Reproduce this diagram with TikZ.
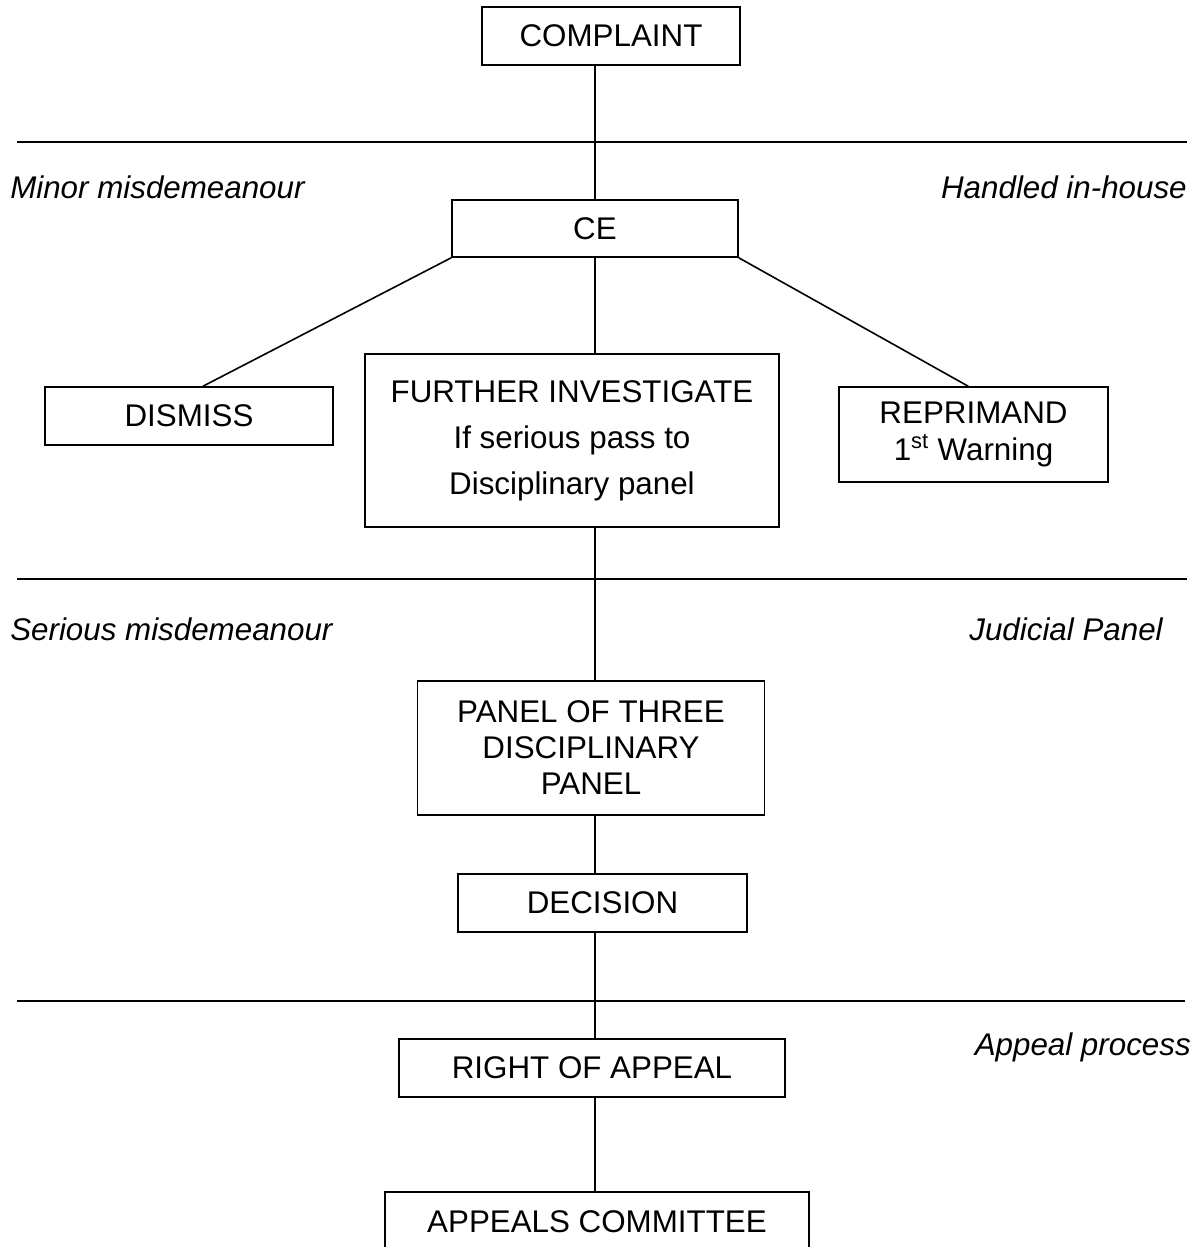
\documentclass[tikz,border=0pt]{standalone}
\usepackage{fontspec}
\setmainfont{Liberation Sans}
\usetikzlibrary{positioning}

\tikzset{
  stagebox/.style={draw, line width=1.2pt, inner sep=0pt, align=center, font=\fontsize{23.5}{28}\selectfont},
  sidenote/.style={inner sep=0pt, font=\fontsize{23.5}{28}\selectfont\itshape},
  divider/.style={line width=1.2pt},
  link/.style={line width=1.2pt}
}

\begin{document}
\begin{tikzpicture}[x=0.75pt,y=0.75pt,yscale=-1,xscale=1]
\useasboundingbox (0,0) rectangle (1199,1247);

%Shape: Rectangle boxes
\node [stagebox, minimum width=193.5pt, minimum height=43.5pt] (complaint) at (611,36) {COMPLAINT};
\node [stagebox, minimum width=214.5pt, minimum height=42.75pt] (ce) at (595,228.5) {CE};
\node [stagebox, minimum width=216pt, minimum height=43.5pt] (dismiss) at (189,416) {DISMISS};
\node [stagebox, minimum width=310.5pt, minimum height=129.75pt, font=\fontsize{23.5}{34.5}\selectfont] (further) at (572,440.5) {FURTHER INVESTIGATE\\If serious pass to\\Disciplinary panel};
\node [stagebox, minimum width=201.75pt, minimum height=71.25pt] (reprimand) at (973.5,434.5) {REPRIMAND\\1\textsuperscript{st} Warning};
\node [stagebox, minimum width=260.25pt, minimum height=100.5pt, font=\fontsize{23.5}{27}\selectfont] (panel) at (591,748) {PANEL OF THREE\\DISCIPLINARY\\PANEL};
\node [stagebox, minimum width=216.75pt, minimum height=43.5pt] (decision) at (602.5,903) {DECISION};
\node [stagebox, minimum width=289.5pt, minimum height=43.5pt] (appeal) at (592,1068) {RIGHT OF APPEAL};
\node [stagebox, minimum width=318pt, minimum height=45pt] (committee) at (597,1222) {APPEALS COMMITTEE};

%Straight Lines: dividers
\draw [divider] (17,142) -- (1187,142) ;
\draw [divider] (17,579) -- (1187,579) ;
\draw [divider] (17,1001) -- (1185,1001) ;

%Straight Lines: connectors
\draw [link] (ce.north) -- (ce.north |- complaint.south) ;
\draw [link] (ce.south west) -- ([xshift=10.5pt]dismiss.north) ;
\draw [link] (ce.south) -- (ce.south |- further.north) ;
\draw [link] (ce.south east) -- ([xshift=-4pt]reprimand.north) ;
\draw [link] (further.south -| ce.south) -- (panel.north -| ce.south) ;
\draw [link] (panel.south -| ce.south) -- (decision.north -| ce.south) ;
\draw [link] (decision.south -| ce.south) -- (appeal.north -| ce.south) ;
\draw [link] (appeal.south -| ce.south) -- (committee.north -| ce.south) ;

% Text Node
\node [sidenote, anchor=west] (minor) at (10,187) {Minor misdemeanour};
% Text Node
\node [sidenote, anchor=east] (inhouse) at (1187,187) {Handled in-house};
% Text Node
\node [sidenote, anchor=west] (serious) at (10,629) {Serious misdemeanour};
% Text Node
\node [sidenote, anchor=east] (judicial) at (1163,629) {Judicial Panel};
% Text Node
\node [sidenote, anchor=east] (appealnote) at (1191,1047) {Appeal process};

\end{tikzpicture}
\end{document}
